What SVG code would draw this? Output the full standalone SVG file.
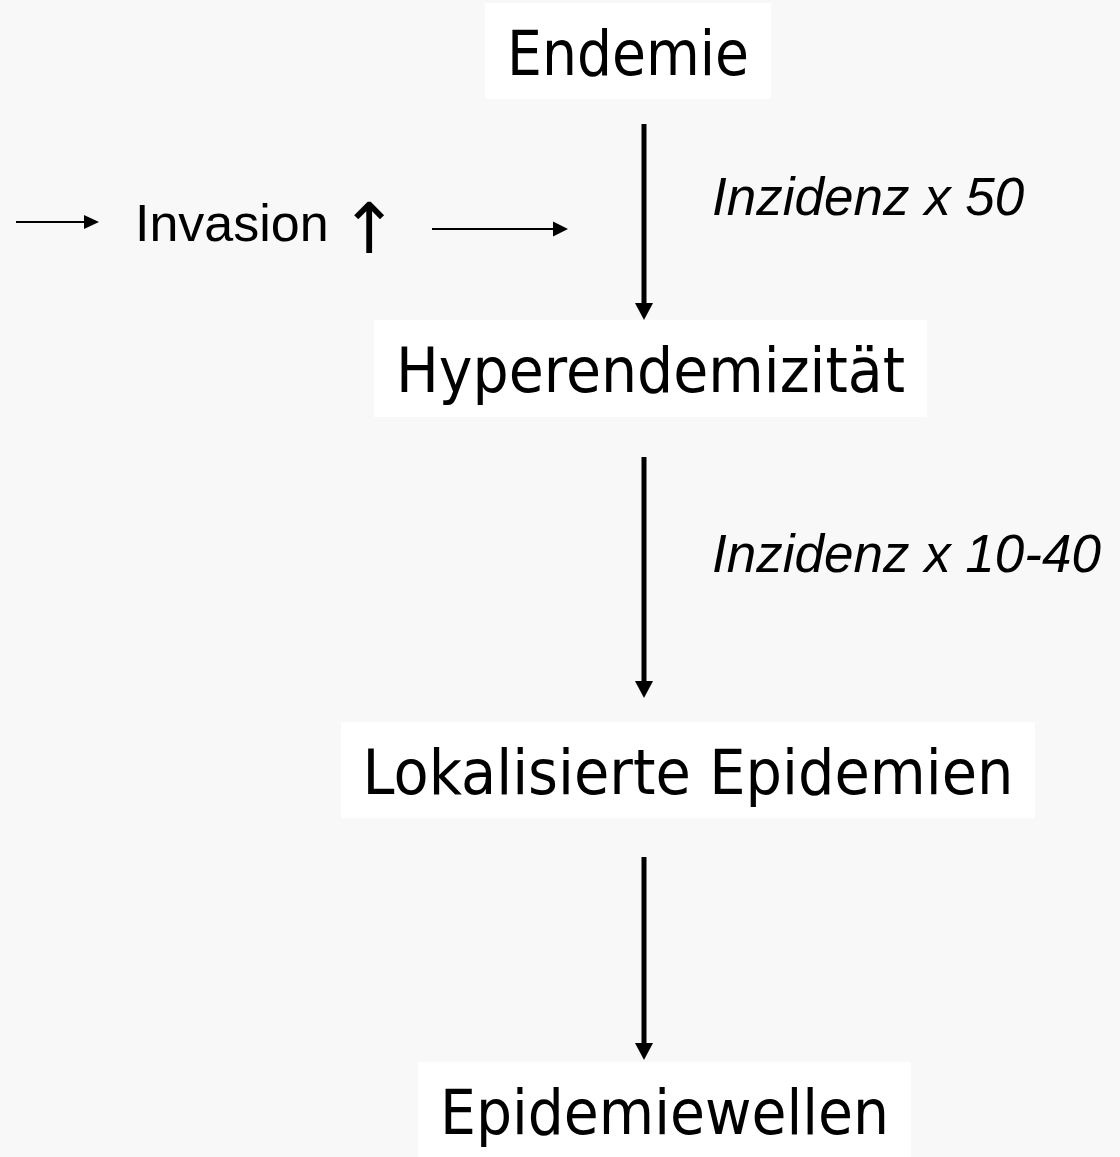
<svg xmlns="http://www.w3.org/2000/svg" width="1120" height="1157" viewBox="0 0 1120 1157">
<defs>
<style>
.bg{fill:#f8f8f8}
.box{fill:#ffffff}
.main{font-family:"DejaVu Sans","Liberation Sans",sans-serif;font-size:62px;fill:#000;text-anchor:middle}
.lab{font-family:"Liberation Sans",Arial,sans-serif;font-size:53px;font-style:italic;fill:#000}
.inv{font-family:"Liberation Sans",Arial,sans-serif;font-size:52px;fill:#000}
.up{font-family:"DejaVu Sans",sans-serif;font-size:70px}
.big{stroke:#000;stroke-width:5;fill:none}
.thin{stroke:#000;stroke-width:2;fill:none}
.head{fill:#000;stroke:none}
</style>
</defs>
<rect class="bg" x="0" y="0" width="1120" height="1157"/>

<g id="connectors">
<line class="big" x1="644" y1="124" x2="644" y2="306"/>
<path class="head" d="M635,303 L653,303 L644,320 z"/>
<line class="big" x1="644" y1="457" x2="644" y2="684"/>
<path class="head" d="M635,681 L653,681 L644,698 z"/>
<line class="big" x1="644" y1="857" x2="644" y2="1046"/>
<path class="head" d="M635,1043 L653,1043 L644,1060 z"/>
<line class="thin" x1="16" y1="222" x2="86" y2="222"/>
<path class="head" d="M84,215 L99,222 L84,229 z"/>
<line class="thin" x1="432" y1="229" x2="555" y2="229"/>
<path class="head" d="M553,221.5 L568,229 L553,236.5 z"/>
</g>

<g id="node-endemie">
<rect class="box" x="485" y="3" width="286" height="96"/>
<text class="main" x="628" y="75" textLength="242" lengthAdjust="spacingAndGlyphs">Endemie</text>
</g>
<g id="node-hyperendemizitaet">
<rect class="box" x="374" y="320" width="553" height="97"/>
<text class="main" x="650.5" y="392" textLength="509" lengthAdjust="spacingAndGlyphs">Hyperendemizität</text>
</g>
<g id="node-lokalisierte">
<rect class="box" x="341" y="722" width="694" height="96"/>
<text class="main" x="688" y="794" textLength="651" lengthAdjust="spacingAndGlyphs">Lokalisierte Epidemien</text>
</g>
<g id="node-epidemiewellen">
<rect class="box" x="418" y="1062" width="493" height="95"/>
<text class="main" x="664.5" y="1134" textLength="449" lengthAdjust="spacingAndGlyphs">Epidemiewellen</text>
</g>

<g id="labels">
<text class="lab" x="712" y="215">Inzidenz x 50</text>
<text class="lab" x="712" y="572">Inzidenz x 10-40</text>
<text class="inv" x="135" y="241">Invasion<tspan class="up" x="340" y="253">↑</tspan></text>
</g>
</svg>
